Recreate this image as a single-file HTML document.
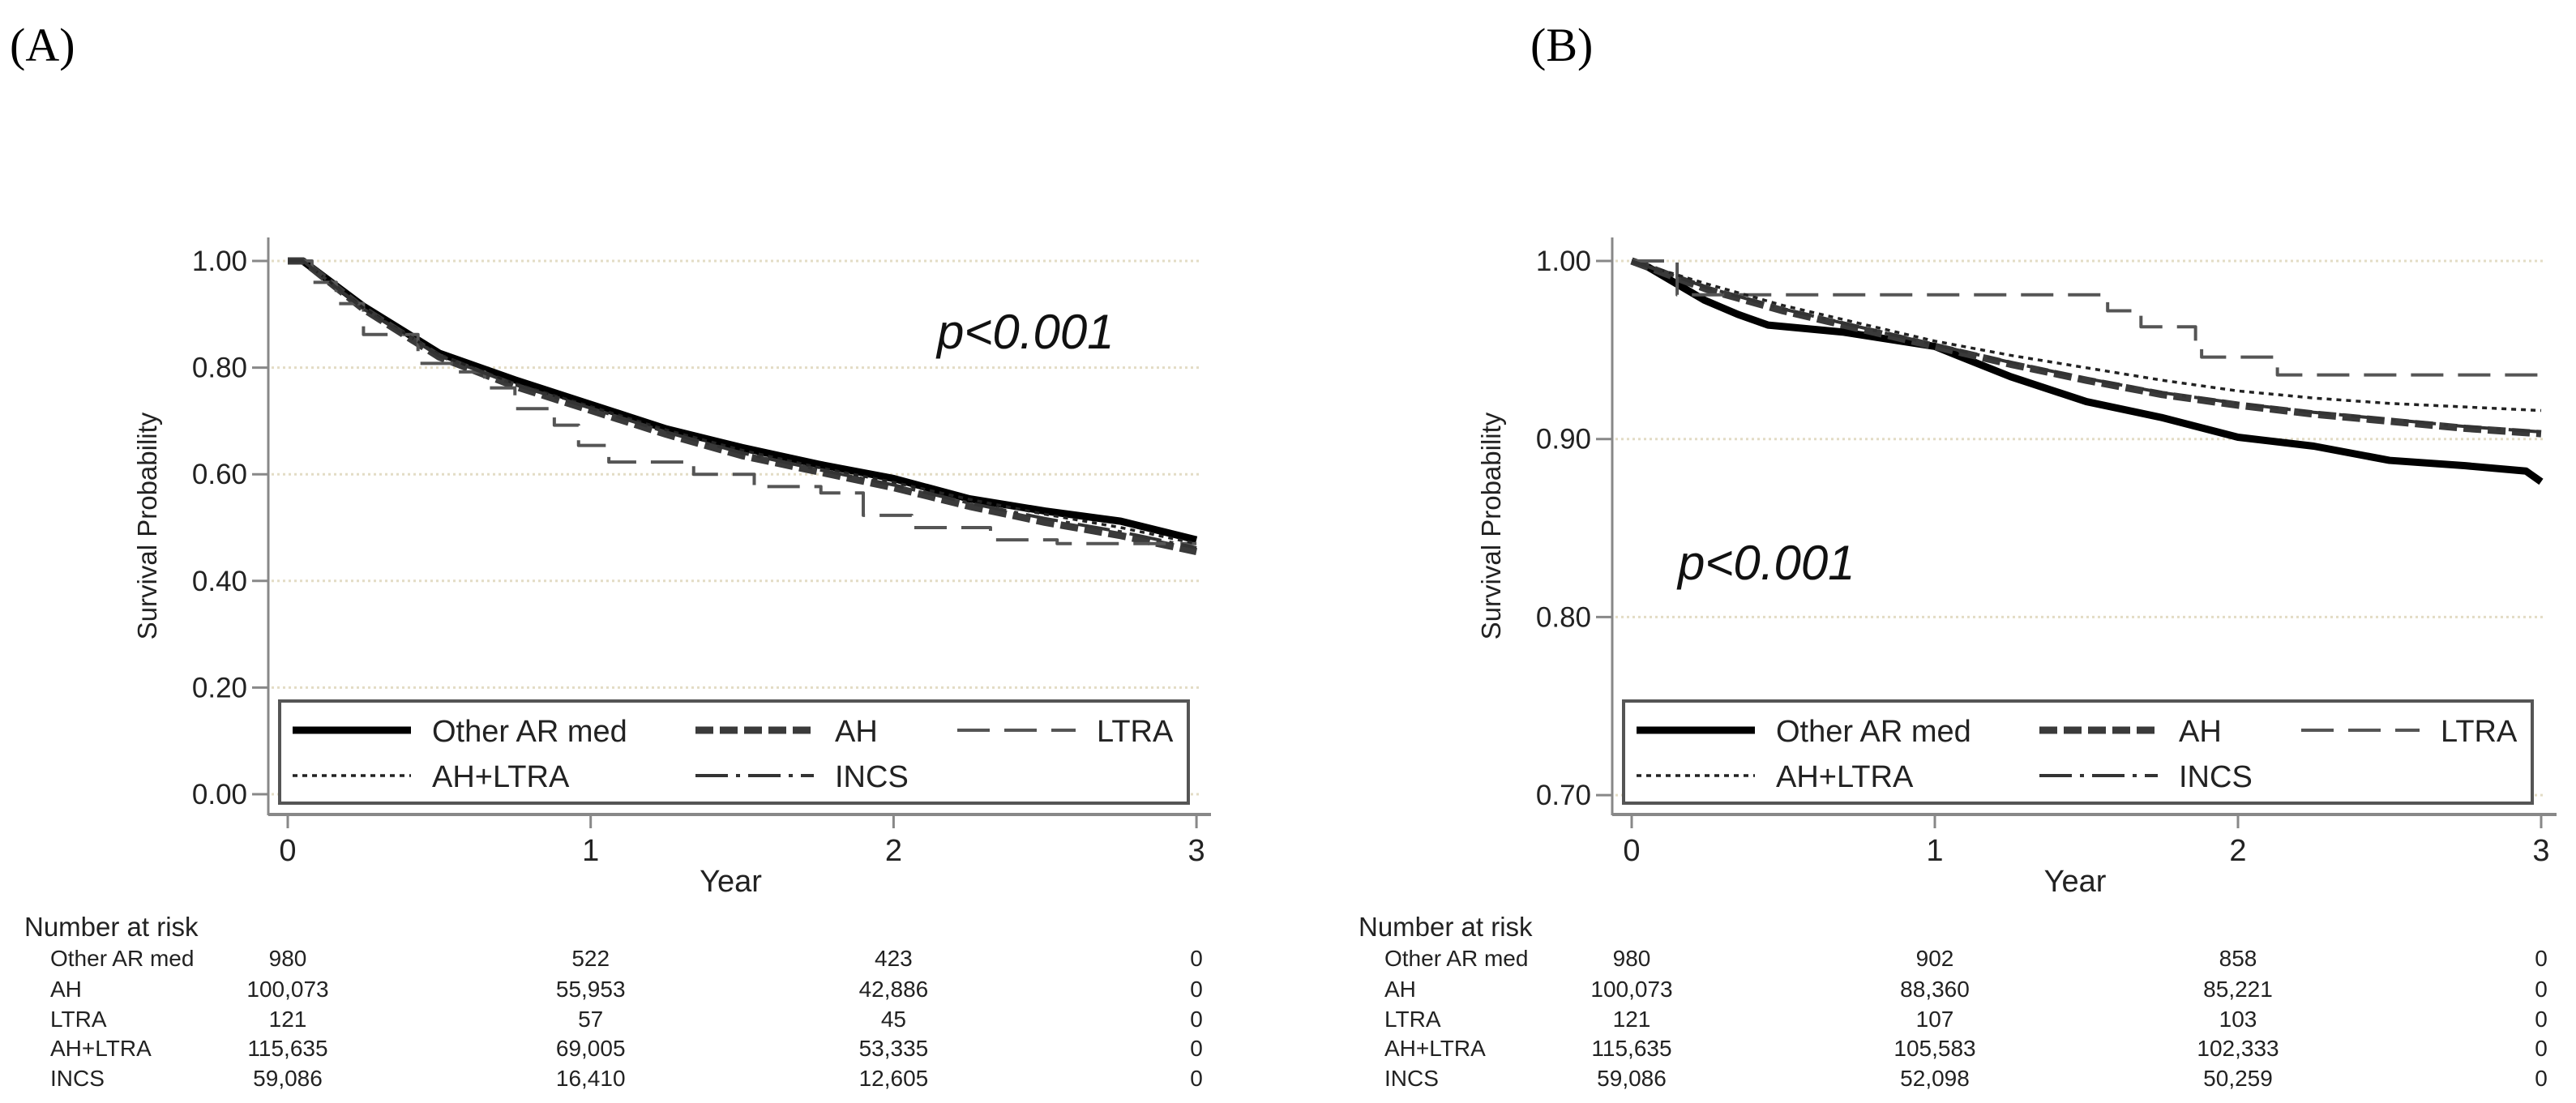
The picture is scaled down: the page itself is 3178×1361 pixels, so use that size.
<!DOCTYPE html>
<html><head><meta charset="utf-8"><style>
html,body{margin:0;padding:0;background:#fff;}
svg{display:block;font-family:"Liberation Sans",sans-serif;}
</style></head><body>
<svg id="chart" width="3178" height="1361" viewBox="0 0 3178 1361" xmlns="http://www.w3.org/2000/svg">
<g id="root"></g>
</svg>
<script>
// ---------- data ----------
const seriesNames = ["Other AR med","AH","LTRA","AH+LTRA","INCS"];
// Panel A
const aOtherT = [0,0.05,0.25,0.5,0.75,1.0,1.25,1.5,1.75,2.0,2.25,2.5,2.75,3.0];
const aOtherV = [1,1,0.915,0.827,0.777,0.731,0.685,0.65,0.619,0.592,0.554,0.531,0.512,0.477];
const aAhT = [0,0.05,0.25,0.5,0.75,1.0,1.25,1.5,1.75,2.0,2.25,2.5,2.75,3.0];
const aAhV = [1,1,0.91,0.82,0.765,0.72,0.675,0.635,0.605,0.575,0.54,0.51,0.485,0.455];
const aLtraT = [0,0.08,0.16,0.25,0.43,0.55,0.65,0.75,0.88,0.96,1.06,1.34,1.54,1.76,1.9,2.06,2.32,2.54,3.0];
const aLtraV = [1,0.96,0.92,0.862,0.808,0.792,0.762,0.723,0.692,0.654,0.623,0.60,0.577,0.565,0.523,0.50,0.477,0.47,0.47];
const aComboT = [0,0.05,0.25,0.5,0.75,1.0,1.25,1.5,1.75,2.0,2.25,2.5,2.75,3.0];
const aComboV = [1,1,0.912,0.824,0.77,0.727,0.683,0.645,0.613,0.585,0.553,0.525,0.5,0.47];
const aIncsT = [0,0.05,0.25,0.5,0.75,1.0,1.25,1.5,1.75,2.0,2.25,2.5,2.75,3.0];
const aIncsV = [1,1,0.91,0.822,0.768,0.724,0.679,0.64,0.609,0.58,0.546,0.517,0.492,0.462];
// Panel B
const bOtherT = [0,0.05,0.15,0.24,0.35,0.45,0.7,1.0,1.25,1.5,1.75,2.0,2.25,2.5,2.75,2.95,3.0];
const bOtherV = [1,0.997,0.987,0.978,0.97,0.964,0.96,0.952,0.935,0.921,0.912,0.901,0.896,0.888,0.885,0.882,0.876];
const bAhT = [0,0.25,0.5,0.75,1.0,1.25,1.5,1.75,2.0,2.25,2.5,2.75,3.0];
const bAhV = [1,0.984,0.972,0.962,0.952,0.942,0.933,0.925,0.919,0.914,0.910,0.906,0.903];
const bLtraT = [0,0.15,1.57,1.68,1.86,1.88,2.13,3.0];
const bLtraV = [1,0.981,0.972,0.963,0.955,0.946,0.936,0.936];
const bComboT = [0,0.25,0.5,0.75,1.0,1.25,1.5,1.75,2.0,2.25,2.5,2.75,3.0];
const bComboV = [1,0.987,0.975,0.965,0.955,0.947,0.94,0.933,0.927,0.923,0.92,0.918,0.916];
const bIncsT = [0,0.25,0.5,0.75,1.0,1.25,1.5,1.75,2.0,2.25,2.5,2.75,3.0];
const bIncsV = [1,0.985,0.973,0.963,0.953,0.943,0.934,0.926,0.92,0.915,0.911,0.907,0.904];
const xTicks = [0,1,2,3];
const aYTicks = [0,0.2,0.4,0.6,0.8,1.0];
const aYLabels = ["0.00","0.20","0.40","0.60","0.80","1.00"];
const bYTicks = [0.7,0.8,0.9,1.0];
const bYLabels = ["0.70","0.80","0.90","1.00"];
const aRisk = [["980","522","423","0"],["100,073","55,953","42,886","0"],["121","57","45","0"],["115,635","69,005","53,335","0"],["59,086","16,410","12,605","0"]];
const bRisk = [["980","902","858","0"],["100,073","88,360","85,221","0"],["121","107","103","0"],["115,635","105,583","102,333","0"],["59,086","52,098","50,259","0"]];

const NS="http://www.w3.org/2000/svg";
const root=document.getElementById('root');
function mk(tag,attrs,parent,text){const e=document.createElementNS(NS,tag);for(const k in attrs)e.setAttribute(k,attrs[k]);if(text!==undefined)e.textContent=text;(parent||root).appendChild(e);return e;}

const styles=[
 {stroke:"#000",w:9,dash:"none"},
 {stroke:"#3a3a3a",w:9,dash:"22 8"},
 {stroke:"#555",w:4,dash:"40 18"},
 {stroke:"#222",w:3.5,dash:"6 6"},
 {stroke:"#333",w:4,dash:"40 10 5 10"}
];

function panel(cfg){
  const g=mk('g',{});
  
  
  const sx=t=>cfg.x0+t*cfg.xs;
  const sy=v=>cfg.yTop+(cfg.yMax-v)*cfg.ys;
  // panel label
  const pl=mk('text',{x:cfg.labelX,y:75,'font-family':'"Liberation Serif",serif','font-size':58},g,cfg.label);
  
  
  // gridlines + y ticks
  cfg.yTicks.forEach((v,i)=>{
    const gl=mk('line',{x1:cfg.axisX+4,x2:cfg.xEnd,y1:sy(v),y2:sy(v),stroke:'#e3dcc5','stroke-width':3,'stroke-dasharray':'3 4'},g);
    
    
    mk('line',{x1:cfg.axisX-20,x2:cfg.axisX,y1:sy(v),y2:sy(v),stroke:'#888','stroke-width':3},g);
    const t=mk('text',{x:cfg.axisX-26,y:sy(v)+12,'font-size':35,'text-anchor':'end',fill:'#222'},g,cfg.yLabels[i]);
    
    
  });
  // axes
  const ya=mk('line',{x1:cfg.axisX,x2:cfg.axisX,y1:293,y2:1006,stroke:'#888','stroke-width':3},g);
  
  
  const xa=mk('line',{x1:cfg.axisX,x2:cfg.xEnd+14,y1:1005,y2:1005,stroke:'#888','stroke-width':4},g);
  
  
  xTicks.forEach(t=>{
    mk('line',{x1:sx(t),x2:sx(t),y1:1005,y2:1022,stroke:'#888','stroke-width':3},g);
    const tl=mk('text',{x:sx(t),y:1062,'font-size':38,'text-anchor':'middle',fill:'#222'},g,String(t));
    
    
  });
  const xt=mk('text',{x:sx(1.5)-14,y:1100,'font-size':38,'text-anchor':'middle',fill:'#222'},g,'Year');
  
  
  const yt=mk('text',{x:0,y:0,'font-size':33,'text-anchor':'middle',fill:'#222',transform:`translate(${cfg.axisX-138},649) rotate(-90)`},g,'Survival Probability');
  
  
  // curves
  cfg.series.forEach((s,i)=>{
    const [T,V]=s;
    let d='';
    if(i===2){ // step
      T.forEach((t,k)=>{ if(k===0)d+=`M${sx(t)},${sy(V[k])}`; else d+=` H${sx(t)} V${sy(V[k])}`;});
    } else {
      T.forEach((t,k)=>{ d+=(k?' L':'M')+sx(t)+','+sy(V[k]);});
    }
    const st=styles[i];
    const p=mk('path',{d:d,fill:'none',stroke:st.stroke,'stroke-width':st.w,'stroke-dasharray':st.dash,'stroke-linejoin':'round'},g);
    
    
  });
  // p value
  const pv=mk('text',{x:cfg.pX,y:cfg.pY,'font-size':60,'font-style':'italic',fill:'#111'},g,'p<0.001');
  
  
  // legend
  const lg=mk('g',{},g);
  
  
  const lx=cfg.x0-10;
  mk('rect',{x:lx,y:865,width:1121,height:126,fill:'#fff',stroke:'#555','stroke-width':4},lg);
  const pos=[[0,901],[497,901],[820,901],[0,957],[497,957]];
  seriesNames.forEach((n,i)=>{
    const [ox,yy]=pos[i];
    const st=styles[i];
    const e=mk('g',{},lg);
    
    
    mk('line',{x1:lx+16+ox,x2:lx+162+ox,y1:yy,y2:yy,stroke:st.stroke,'stroke-width':st.w,'stroke-dasharray':st.dash},e);
    mk('text',{x:lx+188+ox,y:yy+14,'font-size':38,fill:'#222'},e,n);
  });
  // risk table
  const rt=mk('g',{},g);
  
  
  mk('text',{x:cfg.riskX,y:1155,'font-size':33,fill:'#222'},rt,'Number at risk');
  const rows=[1182,1220,1257,1293,1330];
  seriesNames.forEach((n,i)=>{
    mk('text',{x:cfg.riskX+32,y:rows[i]+10,'font-size':28,fill:'#222'},rt,n);
    cfg.risk[i].forEach((v,j)=>{
      mk('text',{x:sx(xTicks[j]),y:rows[i]+10,'font-size':28,'text-anchor':'middle',fill:'#222'},rt,v);
    });
  });
}

panel({name:'panel-a',label:'(A)',labelX:12,x0:355,xs:373.7,axisX:331,xEnd:1480,yTop:322,yMax:1.0,ys:658,
  yTicks:aYTicks,yLabels:aYLabels,pX:1156,pY:430,riskX:30,risk:aRisk,
  series:[[aOtherT,aOtherV],[aAhT,aAhV],[aLtraT,aLtraV],[aComboT,aComboV],[aIncsT,aIncsV]]});
panel({name:'panel-b',label:'(B)',labelX:1888,x0:2013,xs:374,axisX:1989,xEnd:3140,yTop:322,yMax:1.0,ys:2197,
  yTicks:bYTicks,yLabels:bYLabels,pX:2070,pY:715,riskX:1676,risk:bRisk,
  series:[[bOtherT,bOtherV],[bAhT,bAhV],[bLtraT,bLtraV],[bComboT,bComboV],[bIncsT,bIncsV]]});
</script>
</body></html>
